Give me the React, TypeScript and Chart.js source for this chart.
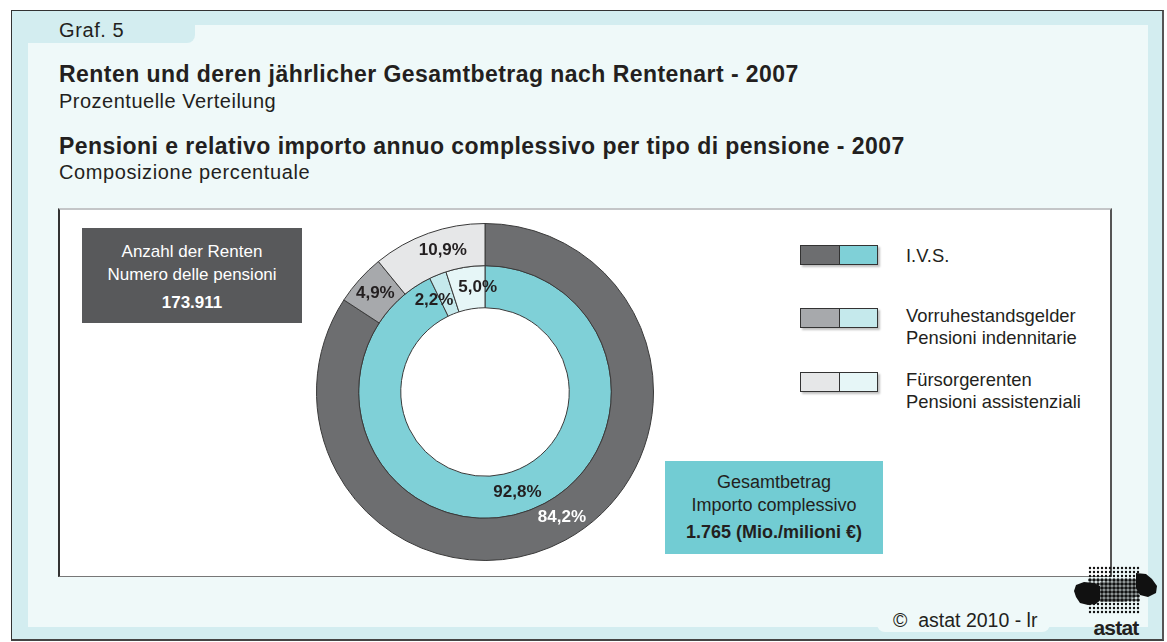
import React, { useEffect, useRef } from "react";
import { Chart, registerables } from "chart.js";

Chart.register(...registerables);

// ---- Data ----
const categoriesDe = ["I.V.S.", "Vorruhestandsgelder", "Fürsorgerenten"];
const categoriesIt = ["", "Pensioni indennitarie", "Pensioni assistenziali"];
const pensionsShare = [84.2, 4.9, 10.9]; // outer ring: Anzahl der Renten
const amountShare = [92.8, 2.2, 5.0]; // inner ring: Gesamtbetrag
const pensionsColors = ["#6d6e70", "#a7a9ac", "#e6e7e8"];
const amountColors = ["#7fd0d7", "#c5e9ec", "#e6f6f7"];
const pensionsLabelColors = ["#ffffff", "#231f20", "#231f20"];
const amountLabelColors = ["#231f20", "#231f20", "#231f20"];

const FONT = "'Liberation Sans', Arial, Helvetica, sans-serif";
const fmt = (v: number) => v.toFixed(1).replace(".", ",") + "%";

const ringLabels = {
  id: "ringLabels",
  afterDatasetsDraw(chart: any, _args: any, opts: any) {
    const ctx = chart.ctx;
    ctx.save();
    ctx.font = `bold 17px ${FONT}`;
    ctx.textAlign = "center";
    ctx.textBaseline = "middle";
    chart.data.datasets.forEach((ds: any, di: number) => {
      const meta = chart.getDatasetMeta(di);
      meta.data.forEach((arc: any, i: number) => {
        const p = arc.getProps(["x", "y", "startAngle", "endAngle", "innerRadius", "outerRadius"], true);
        const nudge = ((opts.nudges && opts.nudges[di] && opts.nudges[di][i]) || 0) * Math.PI / 180;
        const a = (p.startAngle + p.endAngle) / 2 + nudge;
        const r = (p.innerRadius + p.outerRadius) / 2;
        ctx.fillStyle = ds.labelColors[i];
        ctx.fillText(fmt(ds.data[i]), p.x + Math.cos(a) * r, p.y + Math.sin(a) * r);
      });
    });
    ctx.restore();
  },
};

function Logo() {
  const dots: JSX.Element[] = [];
  for (let r = 0; r < 12; r++) {
    for (let c = 0; c < 13; c++) {
      const big = r >= 3 && r <= 8;
      dots.push(<circle key={r + "-" + c} cx={18 + c * 4} cy={2 + r * 4} r={big ? 1.8 : 1.2} fill="#111" />);
    }
  }
  return (
    <svg width="88" height="72" style={{ position: "absolute", left: 1072, top: 566 }}>
      {dots}
      <path d="M4 19 L12 16 L22 17 L28 20 L28 34 L24 38 L16 39 L8 37 L4 31 L2 25 Z" fill="#111" />
      <path d="M64 7 L74 8 L80 13 L85 20 L84 27 L76 31 L68 29 L64 22 Z" fill="#111" />
      <path d="M28 16 L64 14 L66 30 L52 36 L28 36 Z" fill="#111" opacity="0.35" />
      <text x="44" y="69" textAnchor="middle" fontFamily={FONT} fontWeight="bold" fontSize="21" fill="#231f20" letterSpacing="-0.8">astat</text>
    </svg>
  );
}

export default function App() {
  const ref = useRef<HTMLCanvasElement>(null);
  useEffect(() => {
    const chart = new Chart(ref.current!, {
      type: "doughnut",
      data: {
        labels: categoriesDe,
        datasets: [
          {
            data: pensionsShare,
            backgroundColor: pensionsColors,
            borderColor: "#3a3a3a",
            borderWidth: 1,
            labelColors: pensionsLabelColors,
          } as any,
          {
            data: amountShare,
            backgroundColor: amountColors,
            borderColor: "#3a3a3a",
            borderWidth: 1,
            labelColors: amountLabelColors,
          } as any,
        ],
      },
      options: {
        animation: false,
        responsive: false,
        cutout: "50%",
        layout: { padding: 0 },
        plugins: {
          legend: { display: false },
          tooltip: { enabled: false },
          ringLabels: { nudges: [[-3, 0, 3], [-5, -7, 5]] },
        } as any,
      },
      plugins: [ringLabels],
    });
    return () => chart.destroy();
  }, []);

  const abs = (l: number, t: number, extra: React.CSSProperties = {}): React.CSSProperties => ({
    position: "absolute",
    left: l,
    top: t,
    ...extra,
  });

  const text = (s: string, l: number, t: number, size: number, bold = false, spacing = 0, color = "#231f20") => (
    <div style={abs(l, t, { fontFamily: FONT, fontSize: size, fontWeight: bold ? "bold" : "normal", color, whiteSpace: "nowrap", lineHeight: 1, letterSpacing: spacing })}>{s}</div>
  );

  return (
    <div style={{ position: "absolute", left: 0, top: 0, width: 1167, height: 642, overflow: "hidden", background: "#ffffff", fontFamily: FONT }}>
      {/* outer frame */}
      <div style={abs(11, 10, { width: 1153, height: 631, boxSizing: "border-box", background: "#d3edf0", borderTop: "1px solid #333", borderLeft: "1px solid #333", borderRight: "2px solid #555", borderBottom: "2px solid #444" })} />
      {/* inner panel */}
      <div style={abs(28, 25, { width: 1120, height: 602, background: "#eff9f9" })} />
      <div style={abs(877, 615, { width: 173, height: 17, background: "#eff9f9", borderBottomLeftRadius: 8, borderBottomRightRadius: 8 })} />
      {/* tab */}
      <div style={abs(28, 25, { width: 167, height: 18, background: "#d3edf0", borderBottomRightRadius: 8 })} />
      {text("Graf. 5", 59, 20, 20, false, 0.6)}

      {text("Renten und deren jährlicher Gesamtbetrag nach Rentenart - 2007", 59, 63, 23, true, 0.45)}
      {text("Prozentuelle Verteilung", 59, 91, 20, false, 0.5)}
      {text("Pensioni e relativo importo annuo complessivo per tipo di pensione - 2007", 59, 135, 23, true, 0.45)}
      {text("Composizione percentuale", 59, 162, 20, false, 0.6)}

      {/* chart box */}
      <div style={abs(58, 208, { width: 1054, height: 369, boxSizing: "border-box", background: "#ffffff", borderTop: "2px solid #c4c6c8", borderLeft: "2px solid #333", borderRight: "2px solid #555", borderBottom: "1px solid #777" })} />

      {/* left info box */}
      <div style={abs(82, 228, { width: 220, height: 95, background: "#58595b", color: "#fff", fontFamily: FONT, textAlign: "center", fontSize: 17, lineHeight: "23px", paddingTop: 12, boxSizing: "border-box" })}>
        <div>Anzahl der Renten</div>
        <div>Numero delle pensioni</div>
        <div style={{ fontWeight: "bold", marginTop: 5 }}>173.911</div>
      </div>

      {/* teal info box */}
      <div style={abs(665, 461, { width: 218, height: 93, background: "#72ccd3", color: "#231f20", fontFamily: FONT, textAlign: "center", fontSize: 18, lineHeight: "23px", paddingTop: 10, boxSizing: "border-box" })}>
        <div>Gesamtbetrag</div>
        <div>Importo complessivo</div>
        <div style={{ fontWeight: "bold", marginTop: 4 }}>1.765 (Mio./milioni €)</div>
      </div>

      {/* legend */}
      {categoriesDe.map((c, i) => {
        const top = [245, 308, 372][i];
        return (
          <React.Fragment key={c}>
            <div style={abs(800, top, { width: 78, height: 20, boxSizing: "border-box", border: "1px solid #333", display: "flex", boxShadow: "2px 2px 2px rgba(0,0,0,0.25)" })}>
              <div style={{ width: 38, height: "100%", background: pensionsColors[i], borderRight: "1px solid #333" }} />
              <div style={{ flex: 1, height: "100%", background: amountColors[i] }} />
            </div>
            <div style={abs(906, categoriesIt[i] ? top - 3 : top, { fontFamily: FONT, fontSize: 18.4, lineHeight: "22px", color: "#231f20", whiteSpace: "nowrap" })}>
              <div>{c}</div>
              {categoriesIt[i] ? <div>{categoriesIt[i]}</div> : null}
            </div>
          </React.Fragment>
        );
      })}

      {/* donut */}
      <canvas ref={ref} width={338} height={338} style={abs(316, 223, { width: 338, height: 338 })} />

      {text("©\u00a0 astat 2010 - lr", 893, 611, 19.5)}
      <Logo />
    </div>
  );
}
